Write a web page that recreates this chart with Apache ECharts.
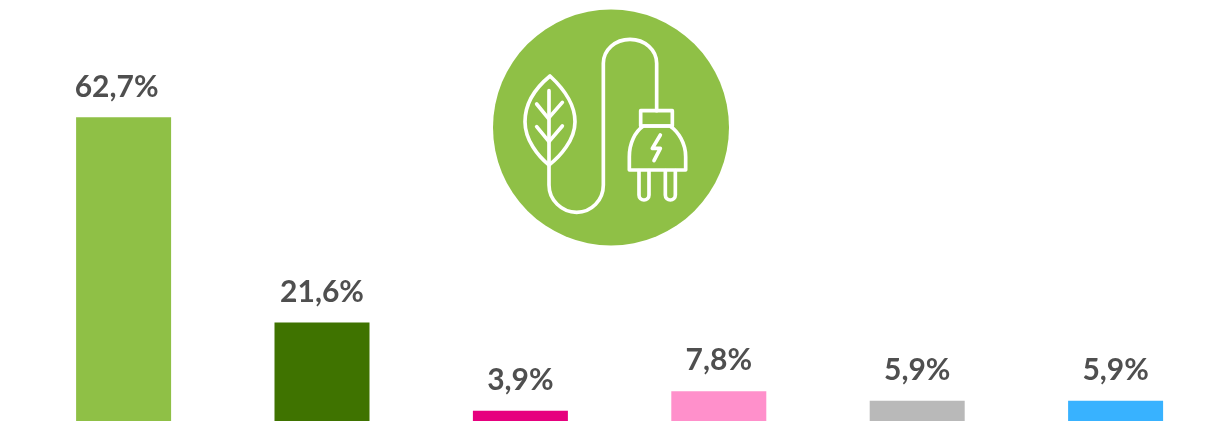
<!DOCTYPE html>
<html><head><meta charset="utf-8">
<style>html,body{margin:0;padding:0;background:#fff;overflow:hidden}#c{width:1205px;height:421px}</style>
<script src="https://cdn.jsdelivr.net/npm/echarts@6/dist/echarts.min.js"></script>
</head><body><div id="c"></div>
<script>
const categories = ['A','B','C','D','E','F'];
const values = [62.7,21.6,3.9,7.8,5.9,5.9];
const barColors = ['#8fc046','#3f7300','#e6007e','#ff90cb','#b9b9b9','#38b2ff'];
const labelTexts = ['62,7%','21,6%','3,9%','7,8%','5,9%','5,9%'];
const labelShifts = [-7,0,0,0,0,0];
const iconPaths = [
 'M210 228 C165 265 135 310 135 365 C135 420 175 470 207 495 C240 470 285 420 285 365 C285 310 250 265 210 228 Z',
 'M207 272 V555 C207 600 245 637 290 637 C335 637 370 600 370 555 V190 C370 150 405 118 450 118 C495 118 530 150 530 190 V332',
 'M170 312 L205 355 L247 307','M170 380 L207 425 L247 378',
 'M482 332 H577 V378 H482 Z',
 'M448 510 H617 V470 C617 430 595 395 570 378 H490 C465 395 448 430 448 470 Z',
 'M477 512 V585 C477 605 507 605 507 585 V512','M556 512 V585 C556 605 586 605 586 585 V512',
 'M541 405 L517 445 H541 L522 482'
];
iconPaths.forEach((p,i)=>echarts.graphic.registerShape('icon'+i, echarts.graphic.extendPath(p,{})));
const chart = echarts.init(document.getElementById('c'),null,{renderer:'canvas'});
chart.setOption({
 animation:false,
 grid:{left:24.4,top:0,width:1190.4,height:421,outerBoundsMode:'none',containLabel:false},
 xAxis:{type:'category',data:categories,show:false},
 yAxis:{type:'value',min:1.85,max:86.22,show:false},
 series:[{type:'bar',barWidth:95,clip:true,
  data:values.map((v,i)=>({value:v,itemStyle:{color:barColors[i]},
    label:{formatter:labelTexts[i],offset:[labelShifts[i],0]}})),
  label:{show:true,position:'top',distance:15.5,fontFamily:'Lato',fontSize:30,fontWeight:'bold',color:'#4f4f4f'}
 }],
 graphic:[
  {type:'circle',shape:{cx:611,cy:127.5,r:118},style:{fill:'#8fc046'},silent:true},
  {type:'group',x:480,y:0,scaleX:1/3,scaleY:1/3,silent:true,
   children:iconPaths.map((p,i)=>({type:'icon'+i,
    style:{fill:null,stroke:'#fff',lineWidth:11,lineJoin:'round',lineCap:'round'}}))}
 ]
});
</script></body></html>
